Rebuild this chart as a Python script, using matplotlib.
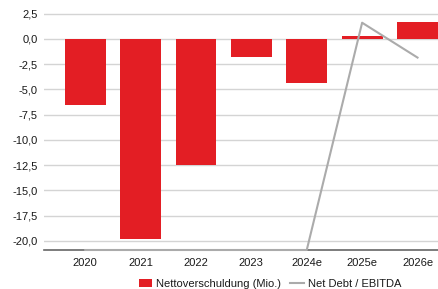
import numpy as np
import matplotlib
matplotlib.use('Agg')
import matplotlib.pyplot as plt

plt.rcParams['font.family'] = ['Liberation Sans', 'DejaVu Sans']

years = ['2020', '2021', '2022', '2023', '2024e', '2025e', '2026e']
nettoverschuldung = [-6.55, -19.85, -12.5, -1.8, -4.4, 0.3, 1.7]
net_debt_ebitda = [-20.9, -20.9, -20.9, -20.9, -20.9, 1.6, -1.85]
y_ticks = [-20.0, -17.5, -15.0, -12.5, -10.0, -7.5, -5.0, -2.5, 0.0, 2.5]

fig = plt.figure(figsize=(4.38, 2.89), dpi=100)
ax = fig.add_axes([43.7 / 438, 39 / 289, 1 - 43.7 / 438, 250 / 289])

x = np.arange(len(years))
bars = ax.bar(x, nettoverschuldung, width=0.74, color='#e31e24', zorder=2,
              label='Nettoverschuldung (Mio.)')
line, = ax.plot(x, net_debt_ebitda, color='#ababab', lw=1.5, zorder=4, clip_on=False,
                label='Net Debt / EBITDA')

ax.set_xlim(-0.75, 6.37)
ax.set_ylim(-20.9, 3.85)
ax.set_xticks(x)
ax.set_xticklabels(years)
ax.set_yticks(y_ticks)
ax.set_yticklabels([f'{v:.1f}'.replace('.', ',') for v in y_ticks])
ax.tick_params(axis='both', length=0, labelsize=8, colors='#1a1a1a')
ax.tick_params(axis='x', pad=6)
ax.tick_params(axis='y', pad=4.5)

ax.grid(axis='y', color='#d4d4d4', lw=1, zorder=0)
for side in ['top', 'right', 'left']:
    ax.spines[side].set_visible(False)
ax.spines['bottom'].set_color('#666666')
ax.spines['bottom'].set_linewidth(1.2)
ax.spines['bottom'].set_zorder(3)

fig.legend([bars, line], ['Nettoverschuldung (Mio.)', 'Net Debt / EBITDA'],
           loc='center', bbox_to_anchor=(270 / 438, 1 - 284 / 289), ncol=2,
           frameon=False, fontsize=8, handlelength=1.2, handleheight=0.8,
           columnspacing=0.8, handletextpad=0.4, borderpad=0,
           labelcolor='#1a1a1a')

fig.savefig('out.png', dpi=100)
